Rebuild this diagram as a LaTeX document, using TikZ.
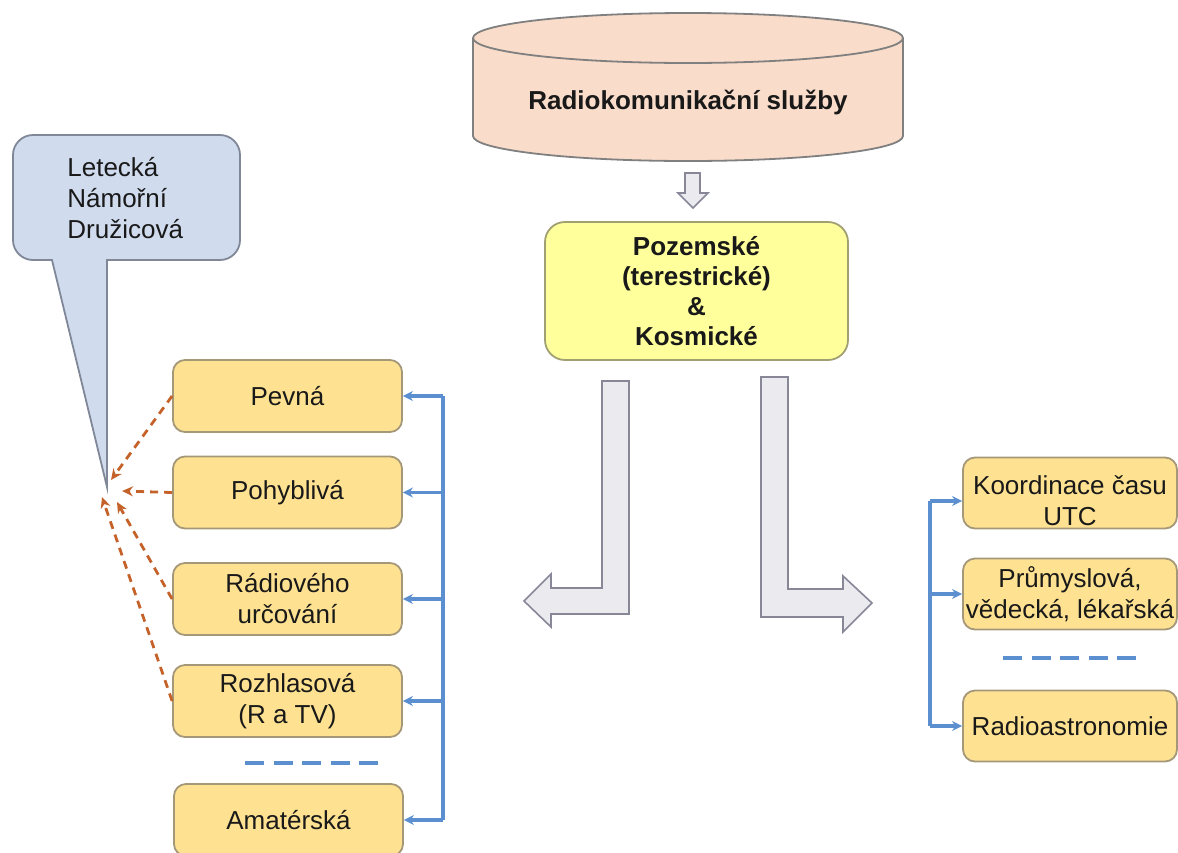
\documentclass[tikz,border=0pt]{standalone}
\usepackage{fontspec}
\setmainfont{Liberation Sans}
\usetikzlibrary{arrows.meta}

\definecolor{peach}{RGB}{250,220,202}
\definecolor{calloutfill}{RGB}{208,219,238}
\definecolor{calloutline}{RGB}{128,136,152}
\definecolor{paleyellow}{RGB}{255,255,155}
\definecolor{yellowline}{RGB}{160,160,115}
\definecolor{gold}{RGB}{254,226,146}
\definecolor{goldline}{RGB}{165,152,120}
\definecolor{blockfill}{RGB}{234,234,239}
\definecolor{blockline}{RGB}{135,135,152}
\definecolor{linkblue}{RGB}{91,143,207}
\definecolor{linkorange}{RGB}{196,98,42}
\definecolor{ink}{RGB}{25,25,25}

\tikzset{
  txt/.style={font=\fontsize{13}{15.5}\selectfont, text=ink, align=center, inner sep=0pt},
  service/.style={txt, rectangle, rounded corners=6pt, fill=gold, draw=goldline,
    line width=0.9pt, minimum width=114.5pt, minimum height=36pt},
  rservice/.style={service, minimum width=107pt, minimum height=35.5pt},
  mainbox/.style={txt, font=\fontsize{13}{15}\selectfont\bfseries, rectangle,
    rounded corners=10pt, fill=paleyellow, draw=yellowline, line width=0.9pt,
    minimum width=151.5pt, minimum height=69pt},
  blockarrow/.style={fill=blockfill, draw=blockline, line width=0.8pt, line join=miter},
  bluelink/.style={draw=linkblue, line width=1.6pt},
  bluearrow/.style={bluelink, -{Stealth[length=5pt,width=5pt]}},
  orangearrow/.style={draw=linkorange, line width=1.4pt, dash pattern=on 4pt off 3pt,
    -{Stealth[length=5.5pt,width=5pt]}},
  separator/.style={draw=linkblue, line width=1.6pt, dash pattern=on 9.5pt off 4.75pt},
}

\begin{document}
\begin{tikzpicture}[x=0.5pt, y=-0.5pt]
\clip (0,0) rectangle (1178,852);

% top cylinder
\fill[peach] (473,38) -- (473,136)
  arc[start angle=180, end angle=360, x radius=107.5pt, y radius=12.5pt]
  -- (903,38) -- cycle;
\draw[gray, line width=0.9pt] (473,38) -- (473,136)
  arc[start angle=180, end angle=360, x radius=107.5pt, y radius=12.5pt]
  -- (903,38);
\draw[gray, fill=peach, line width=0.9pt] (688,38) ellipse[x radius=107.5pt, y radius=12.5pt];
\node[txt, font=\fontsize{13}{15.5}\selectfont\bfseries] (radiokom) at (688,102) {Radiokomunikační služby};

% small arrow down
\draw[blockarrow] (685,173) -- (700,173) -- (700,193) -- (708,193) -- (693,208)
  -- (678,193) -- (685,193) -- cycle;

% central box
\node[mainbox] (main) at (696.5,291) {Pozemské\\(terestrické)\\\&\\Kosmické};

% bent block arrows
\draw[blockarrow] (629,381) -- (602,381) -- (602,588) -- (551,588) -- (551,574)
  -- (524,601) -- (551,627) -- (551,614) -- (629,614) -- cycle;
\draw[blockarrow] (761,377) -- (788,377) -- (788,589) -- (843,589) -- (843,576)
  -- (872,603) -- (843,632) -- (843,617) -- (761,617) -- cycle;

% callout with its pointer
\draw[fill=calloutfill, draw=calloutline, line width=0.9pt]
  (126,135) [rounded corners=10pt] -- (240,135) -- (240,260)
  [sharp corners] -- (107,260) -- (107,487) -- (52,260)
  [rounded corners=10pt] -- (13,260) -- (13,135) -- cycle;
\coordinate (tip) at (107,487);
\node[txt, align=left, anchor=west] (callout) at (67,198) {Letecká\\Námořní\\Družicová};

% left column
\node[service] (pevna) at (287.5,396) {Pevná};
\node[service] (pohyb) at (287.5,492.5) {Pohyblivá};
\node[service] (urcov) at (287.5,599) {Rádiového\\určování};
\node[service] (rozhl) at (287.5,701) {Rozhlasová\\(R a TV)};
\node[service] (amat) at (288.5,820) {Amatérská};
\draw[separator] (245,763) -- (378,763);

% right column
\node[rservice] (koord) at (1070,493) {};
\node[txt] (koordtxt) at (1070,501) {Koordinace času\\UTC};
\node[rservice] (prum) at (1070,594) {Průmyslová,\\vědecká, lékařská};
\node[rservice] (astro) at (1070,726) {Radioastronomie};
\draw[separator] (1003,658) -- (1137,658);

% blue connectors, left
\coordinate (lbus) at (443,0);
\draw[bluelink] (pevna.east -| lbus) -- (amat.east -| lbus);
\foreach \n in {pevna,pohyb,urcov,rozhl,amat}
  \draw[bluearrow] (\n.east -| lbus) -- (\n.east);

% blue connectors, right
\coordinate (rbus) at (930,0);
\draw[bluelink] (koordtxt.center -| rbus) -- (astro.west -| rbus);
\draw[bluearrow] (koordtxt.center -| rbus) -- (koordtxt.center -| koord.west);
\draw[bluearrow] (prum.west -| rbus) -- (prum.west);
\draw[bluearrow] (astro.west -| rbus) -- (astro.west);

% orange dashed links to the callout pointer
\coordinate (t1) at (111,480);
\coordinate (t2) at (122,491);
\coordinate (t3) at (117,502);
\coordinate (t4) at (102,497);
\draw[orangearrow] (pevna.west) -- (t1);
\draw[orangearrow] (pohyb.west) -- (t2);
\draw[orangearrow] (urcov.west) -- (t3);
\draw[orangearrow] (rozhl.west) -- (t4);
\end{tikzpicture}
\end{document}
